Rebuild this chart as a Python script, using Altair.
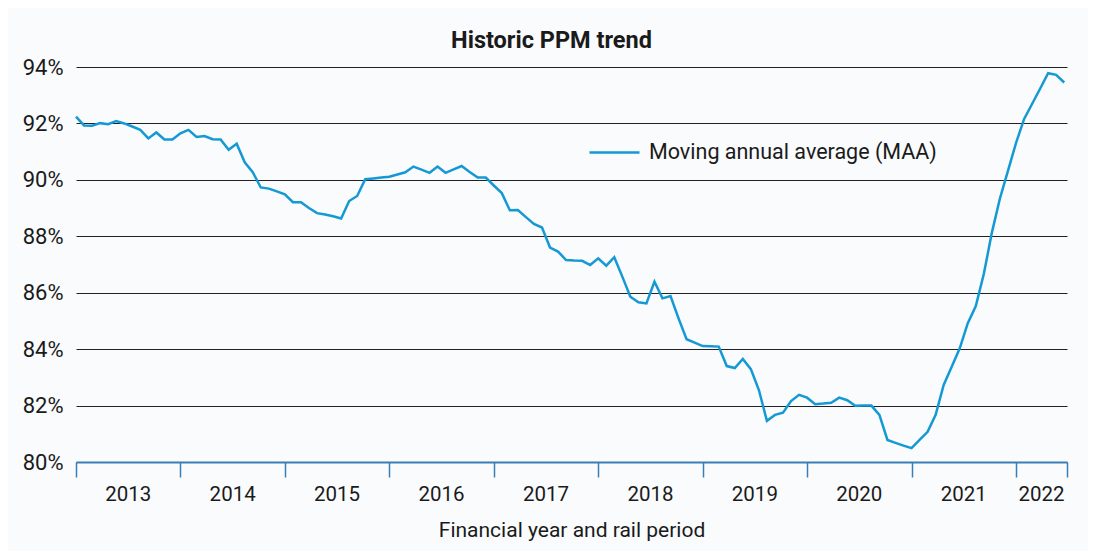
import altair as alt
import pandas as pd

FONT = "Roboto"
TEXT = "#1a1a1a"
LINE = "#1499d5"
AXIS_BLUE = "#3b7eb6"

years = ["2013", "2014", "2015", "2016", "2017", "2018", "2019", "2020", "2021", "2022"]
year_start = [0, 13, 26, 39, 52, 65, 78, 91, 104, 117]
axis_end = 123.35
y_ticks = [80, 82, 84, 86, 88, 90, 92, 94]

ppm = [
    92.24, 91.93, 91.92, 92.01, 91.97, 92.08, 92.00, 91.89, 91.77, 91.47,
    91.68, 91.43, 91.43, 91.65, 91.77, 91.52, 91.55, 91.44, 91.43, 91.07,
    91.28, 90.62, 90.27, 89.73, 89.69, 89.59, 89.49, 89.21, 89.21, 89.00,
    88.82, 88.77, 88.71, 88.63, 89.25, 89.43, 90.02, 90.05, 90.08, 90.11,
    90.19, 90.27, 90.47, 90.36, 90.25, 90.47, 90.25, 90.37, 90.49, 90.28,
    90.08, 90.08, 89.80, 89.53, 88.92, 88.93, 88.68, 88.44, 88.31, 87.60,
    87.46, 87.16, 87.14, 87.13, 86.98, 87.22, 86.96, 87.26, 86.57, 85.86,
    85.66, 85.62, 86.39, 85.80, 85.88, 85.09, 84.35, 84.23, 84.11, 84.10,
    84.09, 83.40, 83.33, 83.65, 83.29, 82.55, 81.46, 81.67, 81.75, 82.16,
    82.38, 82.28, 82.05, 82.07, 82.10, 82.28, 82.19, 81.99, 82.00, 82.00,
    81.67, 80.78, 80.68, 80.58, 80.49, 80.78, 81.07, 81.67, 82.73, 83.38,
    84.03, 84.92, 85.53, 86.67, 88.13, 89.34, 90.32, 91.30, 92.15, 92.69,
    93.23, 93.78, 93.72, 93.45,
]
series_name = "Moving annual average (MAA)"

df = pd.DataFrame({"idx": list(range(len(ppm))), "ppm": ppm, "series": series_name})

bounds = year_start + [axis_end]
mids = [(bounds[i] + bounds[i + 1]) / 2 for i in range(len(years))]
lab = pd.DataFrame({"idx": mids, "year": years})

W, H = 991, 395
LABEL_SIZE = 20.5

line = alt.Chart(df).mark_line(strokeWidth=2.5).encode(
    x=alt.X(
        "idx:Q",
        scale=alt.Scale(domain=[0, axis_end], nice=False, zero=False),
        axis=alt.Axis(
            values=bounds,
            labels=False,
            grid=False,
            domainColor=AXIS_BLUE,
            domainWidth=2,
            tickColor=AXIS_BLUE,
            tickWidth=1.5,
            tickSize=15,
            title="Financial year and rail period",
            titleFont=FONT,
            titleFontSize=21,
            titleFontWeight="normal",
            titleColor=TEXT,
            titlePadding=42,
            zindex=1,
        ),
    ),
    y=alt.Y(
        "ppm:Q",
        scale=alt.Scale(domain=[80, 94], nice=False, zero=False),
        axis=alt.Axis(
            values=y_ticks,
            labelExpr="datum.value + '%'",
            labelFont=FONT,
            labelFontSize=22,
            labelColor=TEXT,
            labelPadding=13,
            domain=False,
            ticks=False,
            grid=True,
            gridColor="#222222",
            gridWidth=1,
            title=None,
        ),
    ),
    color=alt.Color(
        "series:N",
        scale=alt.Scale(range=[LINE]),
        legend=alt.Legend(
            orient="none",
            legendX=512,
            legendY=59,
            title=None,
            symbolType="stroke",
            symbolSize=2500,
            symbolStrokeWidth=2.5,
            labelFont=FONT,
            labelFontSize=21.5,
            labelColor=TEXT,
            labelOffset=8,
            labelLimit=0,
            padding=0,
        ),
    ),
)

text = alt.Chart(lab).mark_text(
    font=FONT, fontSize=LABEL_SIZE, baseline="middle", align="center", color=TEXT
).encode(
    x=alt.X("idx:Q"),
    y=alt.value(H + 33),
    text="year:N",
)

chart = alt.layer(line, text).properties(
    width=W,
    height=H,
    title=alt.Title(
        "Historic PPM trend",
        font=FONT,
        fontSize=23.5,
        fontWeight="bold",
        color=TEXT,
        anchor="middle",
        dx=-20,
        offset=4,
    ),
    background="#f9fbfd",
    padding={"left": 14, "top": 20, "right": 18, "bottom": 10},
).configure_view(stroke=None)

chart.save("out.html", embed_options={"renderer": "svg", "actions": False})
